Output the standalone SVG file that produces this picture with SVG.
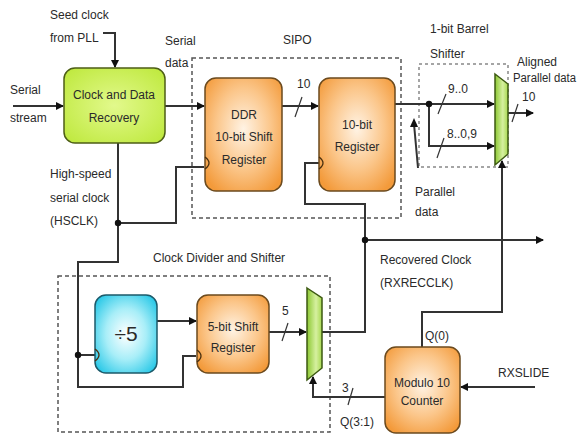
<svg xmlns="http://www.w3.org/2000/svg" width="579" height="438" viewBox="0 0 579 438">
<defs>
<radialGradient id="gOr" cx="50%" cy="45%" r="65%"><stop offset="0" stop-color="#fff3e4"/><stop offset="0.55" stop-color="#fbc68a"/><stop offset="1" stop-color="#f39a3a"/></radialGradient>
<radialGradient id="gCy" cx="50%" cy="50%" r="65%"><stop offset="0" stop-color="#ffffff"/><stop offset="0.5" stop-color="#a8eef8"/><stop offset="1" stop-color="#22c6e6"/></radialGradient>
<radialGradient id="gLime" cx="50%" cy="50%" r="70%"><stop offset="0" stop-color="#e2f98c"/><stop offset="1" stop-color="#bde83a"/></radialGradient>
<linearGradient id="gMux" x1="0" y1="0" x2="1" y2="0"><stop offset="0" stop-color="#8cc832"/><stop offset="0.6" stop-color="#d6f0a0"/><stop offset="1" stop-color="#a6d84e"/></linearGradient>
<marker id="ah" markerWidth="8" markerHeight="8" refX="7" refY="4" orient="auto" markerUnits="userSpaceOnUse"><path d="M0,0 L8,4 L0,8 Z" fill="#111"/></marker>
</defs>
<style>
text{font-family:"Liberation Sans",Arial,sans-serif;font-size:12px;fill:#2a2a2a}
.c{text-anchor:middle}
.box{stroke:#6b4a1e;stroke-width:1.5}
.w{fill:none;stroke:#333;stroke-width:2}
.a{marker-end:url(#ah)}
.dash{fill:none;stroke:#555;stroke-width:1.5;stroke-dasharray:4 3}
.dot{fill:none;stroke:#888;stroke-width:1.5;stroke-dasharray:3 3}
.ck{fill:none;stroke:#4a3010;stroke-width:1.3}
.sl{stroke:#333;stroke-width:1.2}
</style>

<g id="groups">
<rect class="dash" x="192" y="58" width="209" height="160"/>
<rect class="dot" x="419" y="64" width="89" height="103"/>
<rect class="dash" x="58" y="276" width="272" height="156"/>
<text x="283" y="44">SIPO</text>
<text x="430" y="33">1-bit Barrel</text>
<text x="430" y="58">Shifter</text>
<text x="153" y="262">Clock Divider and Shifter</text>
</g>

<g id="connectors">
<path class="w a" d="M103 33 H115 V67"/>
<path class="w a" d="M13 106 H63"/>
<path class="w a" d="M165 106 H204"/>
<path class="w a" d="M282 106 H318"/>
<line class="sl" x1="295" y1="117" x2="302" y2="97"/>
<path class="w a" d="M395 104 H494"/>
<path class="w a" d="M429 104 V146 H494"/>
<circle cx="429" cy="104" r="3.2" fill="#111"/>
<line class="sl" x1="438" y1="114" x2="446" y2="94"/>
<line class="sl" x1="437" y1="158" x2="444" y2="138"/>
<path class="w a" d="M508 113 H533"/>
<line class="sl" x1="512" y1="122" x2="518" y2="104"/>
<path class="w" d="M418 168 L414 124"/>
<path d="M414 118 L418 127 L410 127 Z" fill="#111"/>
<path class="w" d="M118 143 V262 H78 V387 H183 V356 H196"/>
<path class="w" d="M118 223 H176 V167 H204"/>
<circle cx="118" cy="223" r="3.2" fill="#111"/>
<path class="w" d="M78 355 H95"/>
<circle cx="78" cy="355" r="3.2" fill="#111"/>
<path class="w a" d="M157 321 H196"/>
<path class="w a" d="M269 332 H306"/>
<line class="sl" x1="282" y1="341" x2="288" y2="323"/>
<path class="w" d="M319 163 H305 V204 H365 V332 H322"/>
<path class="w a" d="M365 240 H543"/>
<circle cx="365" cy="240" r="3.2" fill="#111"/>
<path class="w a" d="M422 347 V312 H502 V161"/>
<path class="w a" d="M385 397 H313 V377"/>
<line class="sl" x1="348" y1="405" x2="353" y2="388"/>
<path class="w a" d="M535 387 H461"/>
</g>

<g id="cdr">
<rect x="64" y="68" width="101" height="75" rx="11" fill="url(#gLime)" stroke="#4d5e16" stroke-width="1.5"/>
<text class="c" x="114" y="99">Clock and Data</text>
<text class="c" x="114" y="122">Recovery</text>
</g>

<g id="ddr">
<rect class="box" x="205" y="78" width="77" height="113" rx="11" fill="url(#gOr)"/>
<path class="ck" d="M205 157 q8 6 0 12"/>
<text class="c" x="244" y="119">DDR</text>
<text class="c" x="244" y="141">10-bit Shift</text>
<text class="c" x="244" y="164">Register</text>
</g>

<g id="reg10">
<rect class="box" x="319" y="78" width="76" height="113" rx="11" fill="url(#gOr)"/>
<path class="ck" d="M319 157 q8 6 0 12"/>
<text class="c" x="357" y="129">10-bit</text>
<text class="c" x="357" y="151">Register</text>
</g>

<g id="mux1">
<path d="M495 74 L508 84 L508 154 L495 165 Z" fill="url(#gMux)" stroke="#3d5a12" stroke-width="1.5"/>
</g>

<g id="div5">
<rect x="95" y="295" width="62" height="78" rx="11" fill="url(#gCy)" stroke="#1d5a6a" stroke-width="1.5"/>
<path class="ck" d="M95 349 q8 6 0 12"/>
<text class="c" x="126" y="341" style="font-size:21px">÷5</text>
</g>

<g id="shift5">
<rect class="box" x="197" y="295" width="72" height="78" rx="11" fill="url(#gOr)"/>
<path class="ck" d="M197 350 q8 6 0 12"/>
<text class="c" x="233" y="331">5-bit Shift</text>
<text class="c" x="233" y="352">Register</text>
</g>

<g id="mux2">
<path d="M307 288 L322 298 L322 368 L307 380 Z" fill="url(#gMux)" stroke="#3d5a12" stroke-width="1.5"/>
</g>

<g id="counter">
<rect class="box" x="385" y="347" width="75" height="86" rx="11" fill="url(#gOr)"/>
<text class="c" x="422" y="387">Modulo 10</text>
<text class="c" x="422" y="405">Counter</text>
</g>

<g id="labels">
<text x="50" y="19">Seed clock</text>
<text x="50" y="42">from PLL</text>
<text x="10" y="94">Serial</text>
<text x="10" y="122">stream</text>
<text x="165" y="45">Serial</text>
<text x="165" y="67">data</text>
<text x="297" y="88">10</text>
<text x="448" y="93">9..0</text>
<text x="447" y="138">8..0,9</text>
<text x="517" y="66">Aligned</text>
<text x="513" y="82" textLength="63" lengthAdjust="spacingAndGlyphs">Parallel data</text>
<text x="522" y="101">10</text>
<text x="415" y="196">Parallel</text>
<text x="415" y="216">data</text>
<text x="50" y="178">High-speed</text>
<text x="50" y="202">serial clock</text>
<text x="50" y="225">(HSCLK)</text>
<text x="282" y="315">5</text>
<text x="380" y="264">Recovered Clock</text>
<text x="380" y="287">(RXRECCLK)</text>
<text x="425" y="340">Q(0)</text>
<text x="498" y="377">RXSLIDE</text>
<text x="342" y="392">3</text>
<text x="340" y="426">Q(3:1)</text>
</g>
</svg>
